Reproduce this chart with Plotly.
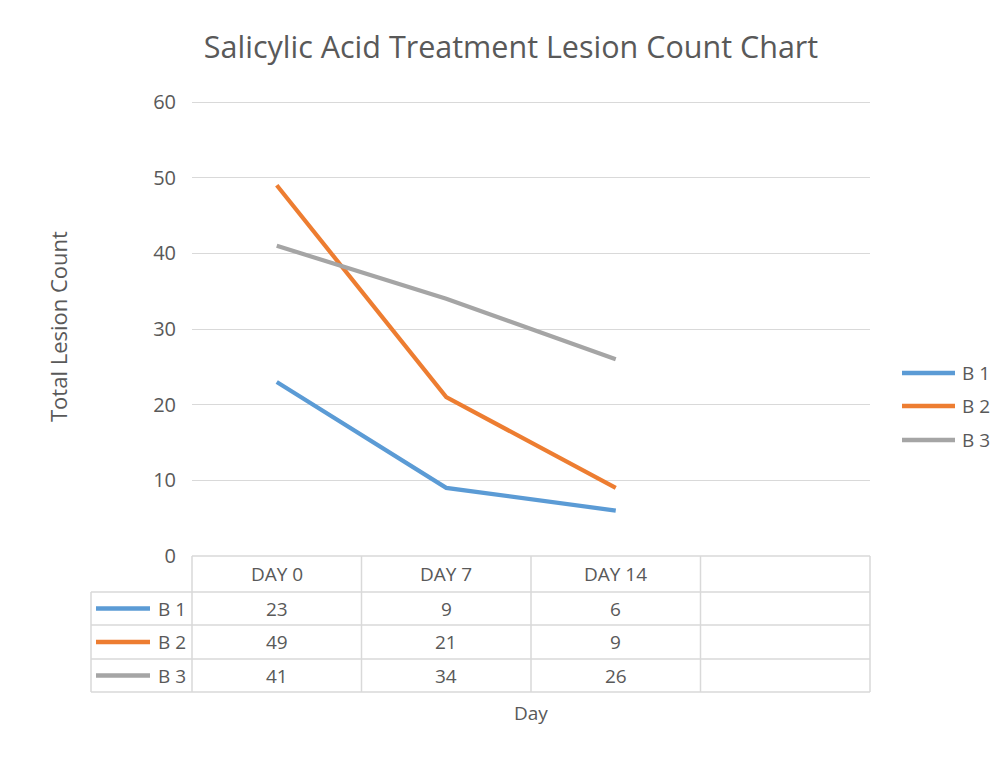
import plotly.graph_objects as go

# ---- data ----
categories = ["DAY 0", "DAY 7", "DAY 14"]
series_names = ["B 1", "B 2", "B 3"]
b1_values = [23, 9, 6]
b2_values = [49, 21, 9]
b3_values = [41, 34, 26]
series_values = [b1_values, b2_values, b3_values]
series_colors = ["#5B9BD5", "#ED7D31", "#A5A5A5"]
y_tick_values = [0, 10, 20, 30, 40, 50, 60]

# ---- layout constants (screen pixels) ----
W, H = 1002, 758
PL, PR, PT, PB = 192, 870, 100, 556          # plot area (60 gridline sits at y=102)
Y_TOP_PX = 102
L, T = PL, PT
R = W - PR
B = H - PB
PW, PH = PR - PL, PB - PT
FONT = "Open Sans"
TXT = "#595959"
GRID = "#D9D9D9"
y_max = y_tick_values[-1] * PH / (PB - Y_TOP_PX)


def py(p):
    return (PB - p) / PH


def px(p):
    return (p - PL) / PW


slots = categories + [" "]
fig = go.Figure()
for name, vals, col in zip(series_names, series_values, series_colors):
    fig.add_trace(go.Scatter(x=categories, y=vals, name=name, mode="lines",
                             showlegend=False,
                             line=dict(color=col, width=4.2)))

# ---- data table drawn below the plot ----
shapes = []
row_edges = [556, 592, 625, 659, 692]
left_edge = 91
n = len(slots)
line_style = dict(color=GRID, width=1.5)
shapes.append(dict(type="line", xref="paper", yref="paper", x0=0, x1=1,
                   y0=py(row_edges[0]), y1=py(row_edges[0]), line=line_style))
for e in row_edges[1:]:
    shapes.append(dict(type="line", xref="paper", yref="paper", x0=px(left_edge), x1=1,
                       y0=py(e), y1=py(e), line=line_style))
shapes.append(dict(type="line", xref="paper", yref="paper", x0=px(left_edge), x1=px(left_edge),
                   y0=py(row_edges[1]), y1=py(row_edges[-1]), line=line_style))
for k in range(n + 1):
    shapes.append(dict(type="line", xref="paper", yref="paper", x0=k / n, x1=k / n,
                       y0=py(row_edges[0]), y1=py(row_edges[-1]), line=line_style))

TF = 19
annotations = []
legend_rows = [373, 406, 440]
for i, (name, vals, col) in enumerate(zip(series_names, series_values, series_colors)):
    yc = py((row_edges[i + 1] + row_edges[i + 2]) / 2)
    shapes.append(dict(type="line", xref="paper", yref="paper", x0=px(96), x1=px(150),
                       y0=yc, y1=yc, line=dict(color=col, width=4.5)))
    annotations.append(dict(text=name, xref="paper", yref="paper", x=px(156), y=yc,
                            xanchor="left", yanchor="middle", showarrow=False,
                            font=dict(family=FONT, size=TF, color=TXT)))
    for c, v in zip(categories, vals):
        annotations.append(dict(text=str(v), xref="x", yref="paper", x=c, y=yc,
                                xanchor="center", yanchor="middle", showarrow=False,
                                font=dict(family=FONT, size=TF, color=TXT)))
    # right-hand legend entry
    ly = py(legend_rows[i])
    shapes.append(dict(type="line", xref="paper", yref="paper", x0=px(902), x1=px(955),
                       y0=ly, y1=ly, line=dict(color=col, width=4.5)))
    annotations.append(dict(text=name, xref="paper", yref="paper", x=px(960), y=ly,
                            xanchor="left", yanchor="middle", showarrow=False,
                            font=dict(family=FONT, size=TF, color=TXT)))
hc = py((row_edges[0] + row_edges[1]) / 2)
for c in categories:
    annotations.append(dict(text=c, xref="x", yref="paper", x=c, y=hc,
                            xanchor="center", yanchor="middle", showarrow=False,
                            font=dict(family=FONT, size=TF, color=TXT)))
annotations.append(dict(text="Day", xref="paper", yref="paper", x=0.5, y=py(713),
                        xanchor="center", yanchor="middle", showarrow=False,
                        font=dict(family=FONT, size=TF, color=TXT)))
annotations.append(dict(text="Total Lesion Count", xref="paper", yref="paper", x=px(58), y=py(327),
                        xanchor="center", yanchor="middle", showarrow=False, textangle=-90,
                        font=dict(family=FONT, size=22, color=TXT)))

fig.update_layout(
    width=W, height=H,
    margin=dict(l=L, r=R, t=T, b=B),
    paper_bgcolor="white", plot_bgcolor="white",
    showlegend=False,
    title=dict(text="Salicylic Acid Treatment Lesion Count Chart", x=px(511), xref="paper",
               xanchor="center", y=1 - 47 / H, yanchor="middle",
               font=dict(family=FONT, size=30.5, color=TXT)),
    xaxis=dict(type="category", categoryorder="array", categoryarray=slots,
               range=[-0.5, n - 0.5], showticklabels=False, showgrid=False,
               zeroline=False, showline=False, fixedrange=True),
    yaxis=dict(range=[0, y_max], tickvals=y_tick_values, showgrid=True, gridcolor=GRID,
               gridwidth=1, zeroline=False, showline=False, ticks="",
               ticklabelstandoff=15,
               tickfont=dict(family=FONT, size=20, color=TXT)),
    shapes=shapes, annotations=annotations,
)
fig.write_html("out.html", config={"displayModeBar": False},
               post_script="document.body.style.margin='0';")
